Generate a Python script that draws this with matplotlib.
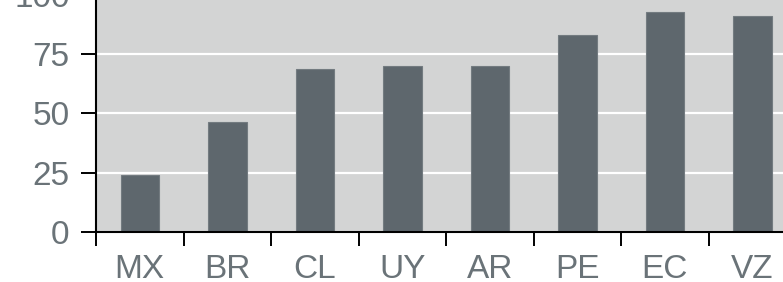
import numpy as np
import matplotlib
matplotlib.use("Agg")
import matplotlib.pyplot as plt

# data
countries = ["MX", "BR", "CL", "UY", "AR", "PE", "EC", "VZ"]
values = [24, 46.5, 69, 70, 70, 83, 93, 91]
yticks = [0, 25, 50, 75, 100]

bg = "#d3d4d4"
bar_col = "#5e676d"
txt_col = "#6a7378"

plt.rcParams["font.family"] = ["Liberation Sans", "DejaVu Sans"]

fig = plt.figure(figsize=(7.83, 2.82), dpi=100)
ax = fig.add_axes([96/783, (282-231.7)/282, 700/783, 236.5/282])
ax.set_facecolor(bg)

x = np.arange(len(countries))
ax.bar(x, values, width=0.44, color=bar_col, edgecolor="#737b80", linewidth=0.8, zorder=3)

ax.set_xlim(-0.5, len(countries) - 0.5)
ax.set_ylim(0, 100)
ax.set_yticks(yticks)
ax.grid(axis="y", color="white", linewidth=1.6, zorder=1)
ax.set_axisbelow(True)

# labels under the bars, tick marks between categories
ax.set_xticks(x)
ax.set_xticklabels(countries)
ax.set_xticks(np.arange(-0.5, len(countries), 1.0), minor=True)
ax.tick_params(axis="x", which="major", length=0, pad=16, labelsize=24, labelcolor=txt_col)
ax.tick_params(axis="x", which="minor", length=10, width=1.4, color="black", direction="out")
ax.tick_params(axis="y", length=11, width=1.4, color="black", pad=8, labelsize=24, labelcolor=txt_col)

for s in ["top", "right"]:
    ax.spines[s].set_visible(False)
for s in ["left", "bottom"]:
    ax.spines[s].set_color("black")
    ax.spines[s].set_linewidth(1.5)
    ax.spines[s].set_zorder(4)

fig.savefig("out.png", dpi=100)
